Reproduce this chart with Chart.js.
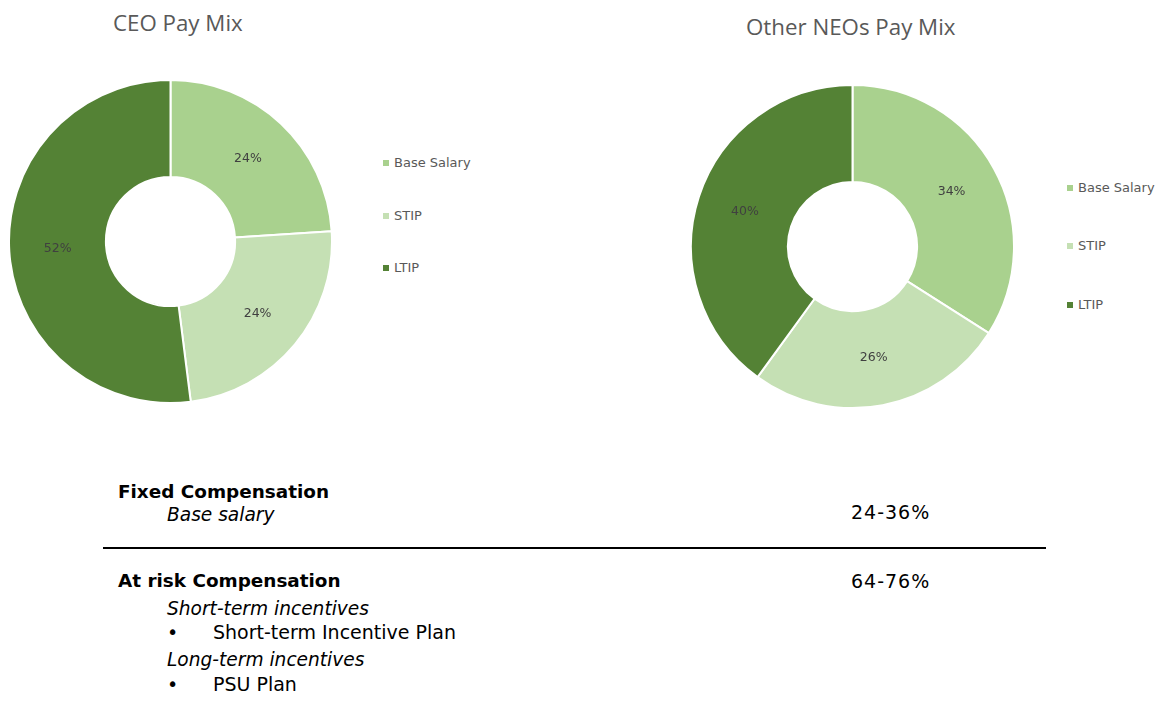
<!DOCTYPE html>
<html>
<head>
<meta charset="utf-8">
<script src="https://cdn.jsdelivr.net/npm/chart.js@4.4.1/dist/chart.umd.min.js"></script>
<style>
  html, body { margin: 0; padding: 0; background: #fff; }
  body { width: 1161px; height: 717px; position: relative; overflow: hidden; font-family: "DejaVu Sans", Verdana, sans-serif; }
  .title { position: absolute; font-family: "Open Sans", sans-serif; font-size: 22.3px; color: #595959; white-space: nowrap; line-height: 30px; }
  .chart-box { position: absolute; width: 325px; height: 325px; }
  .legend { position: absolute; font-size: 13px; color: #595959; }
  .legend .item { position: absolute; left: 0; white-space: nowrap; line-height: 16px; }
  .legend .sw { display: inline-block; width: 6px; height: 6px; margin-right: 5px; vertical-align: 1px; }
  .txt { position: absolute; font-size: 19px; line-height: 20px; color: #000; white-space: nowrap; }
  .b { font-weight: bold; font-size: 18.4px; }
  .i { font-style: italic; font-size: 18.6px; }
  .num { letter-spacing: 1px; }
  .rule { position: absolute; left: 103px; top: 547px; width: 943px; height: 2px; background: #000; }
</style>
</head>
<body>

<div class="title" style="left:113px; top:8px;">CEO Pay Mix</div>
<div class="title" style="left:746px; top:12px;">Other NEOs Pay Mix</div>

<div class="chart-box" style="left:8px; top:79px;"><canvas id="ceoChart"></canvas></div>
<div class="chart-box" style="left:690px; top:84px;"><canvas id="neoChart"></canvas></div>

<div class="legend" id="ceoLegend" style="left:383px; top:0px;"></div>
<div class="legend" id="neoLegend" style="left:1067px; top:0px;"></div>

<div class="txt b" style="left:118px; top:482px;">Fixed Compensation</div>
<div class="txt i" style="left:167px; top:505px;">Base salary</div>
<div class="txt num" style="left:851px; top:502px;">24-36%</div>
<div class="rule"></div>
<div class="txt b" style="left:118px; top:571px;">At risk Compensation</div>
<div class="txt num" style="left:851px; top:571px;">64-76%</div>
<div class="txt i" style="left:167px; top:599px;">Short-term incentives</div>
<div class="txt" style="left:167px; top:622px;">&bull;</div>
<div class="txt" style="left:213px; top:622px;">Short-term Incentive Plan</div>
<div class="txt i" style="left:167px; top:650px;">Long-term incentives</div>
<div class="txt" style="left:167px; top:674px;">&bull;</div>
<div class="txt" style="left:213px; top:674px;">PSU Plan</div>

<script>
// --- Data ---
const categories = ['Base Salary', 'STIP', 'LTIP'];
const ceoValues = [24, 24, 52];
const neoValues = [34, 26, 40];
const sliceColors = ['#a9d18e', '#c5e0b4', '#548235'];

// legend row centres (px from page top)
const ceoLegendRows = [163, 216, 268];
const neoLegendRows = [188, 246, 305];

// --- Percent labels inside slices ---
const sliceLabels = {
    id: 'sliceLabels',
    afterDatasetsDraw(chart) {
        const ctx = chart.ctx;
        const meta = chart.getDatasetMeta(0);
        const data = chart.data.datasets[0].data;
        ctx.save();
        ctx.font = '12.5px "DejaVu Sans", Verdana, sans-serif';
        ctx.fillStyle = '#404040';
        ctx.textAlign = 'center';
        ctx.textBaseline = 'middle';
        meta.data.forEach((arc, i) => {
            const p = arc.getCenterPoint();
            ctx.fillText(data[i] + '%', p.x, p.y);
        });
        ctx.restore();
    }
};

const makeDonut = (id, values) => {
    const ctx = document.getElementById(id).getContext('2d');
    return new Chart(ctx, {
        type: 'doughnut',
        data: {
            labels: categories,
            datasets: [{
                data: values,
                backgroundColor: sliceColors,
                borderColor: '#ffffff',
                borderWidth: 2
            }]
        },
        options: {
            responsive: true,
            maintainAspectRatio: false,
            animation: false,
            cutout: '40%',
            layout: { padding: 0 },
            plugins: {
                legend: { display: false },
                tooltip: { enabled: false }
            }
        },
        plugins: [sliceLabels]
    });
};

const buildLegend = (elId, rows) => {
    const el = document.getElementById(elId);
    categories.forEach((name, i) => {
        const item = document.createElement('div');
        item.className = 'item';
        item.style.top = (rows[i] - 8) + 'px';
        item.innerHTML = `<span class="sw" style="background:${sliceColors[i]}"></span>${name}`;
        el.appendChild(item);
    });
};

makeDonut('ceoChart', ceoValues);
makeDonut('neoChart', neoValues);
buildLegend('ceoLegend', ceoLegendRows);
buildLegend('neoLegend', neoLegendRows);
</script>
</body>
</html>
